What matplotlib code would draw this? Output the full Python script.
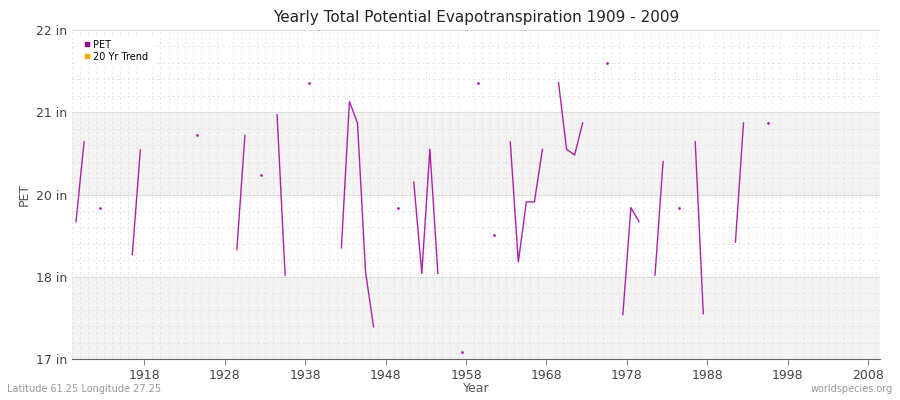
import numpy as np
import matplotlib.pyplot as plt

years = list(range(1909, 2010))
# PET values in axis units (tick 17..21 labelled 17,18,20,21,22 in)
pet_known = {
    1909: 18.67, 1910: 19.64, 1912: 18.84, 1916: 18.27, 1917: 19.54,
    1924: 19.72, 1929: 18.33, 1930: 19.72, 1932: 19.24, 1934: 19.97,
    1935: 18.02, 1938: 20.36, 1942: 18.35, 1943: 20.13, 1944: 19.87,
    1945: 18.06, 1946: 17.39, 1949: 18.84, 1951: 19.15, 1952: 18.04,
    1953: 19.55, 1954: 18.04, 1957: 17.08, 1959: 20.36, 1961: 18.51,
    1963: 19.64, 1964: 18.18, 1965: 18.91, 1966: 18.91, 1967: 19.55,
    1969: 20.36, 1970: 19.55, 1971: 19.48, 1972: 19.87, 1975: 20.60,
    1977: 17.54, 1978: 18.84, 1979: 18.67, 1981: 18.02, 1982: 19.40,
    1984: 18.84, 1986: 19.64, 1987: 17.55, 1991: 18.42, 1992: 19.87,
    1995: 19.87,
}
pet = np.array([pet_known.get(y, np.nan) for y in years])
yticks = [17, 18, 19, 20, 21]
ytick_labels = ["17 in", "18 in", "20 in", "21 in", "22 in"]
xticks = [1918, 1928, 1938, 1948, 1958, 1968, 1978, 1988, 1998, 2008]

fig = plt.figure(figsize=(9, 4), dpi=100)
ax = fig.add_axes([0.08, 0.1025, 0.898, 0.8225])
ax.set_facecolor("white")
for lo in (17, 19):
    ax.axhspan(lo, lo + 1, color="#f3f3f3", zorder=0)

x = np.array(years) + 0.5
purple = "#aa22aa"
ax.plot(x, pet, color=purple, lw=1, zorder=3)
iso = [i for i in range(len(pet)) if not np.isnan(pet[i])
       and (i == 0 or np.isnan(pet[i - 1]))
       and (i == len(pet) - 1 or np.isnan(pet[i + 1]))]
ax.scatter(x[iso], pet[iso], s=4, color=purple, zorder=4, linewidths=0)

ax.set_xlim(1909, 2009.5)
ax.set_ylim(17, 21)
ax.set_xticks(xticks)
ax.set_yticks(yticks)
ax.set_yticklabels(ytick_labels)
ax.set_xticks(np.arange(1909, 2010), minor=True)
ax.set_yticks(np.arange(17, 21, 0.2), minor=True)
ax.grid(which="minor", color="#e2e2e2", lw=0.6, ls=(0, (3, 3)))
ax.grid(which="major", axis="y", color="#dddddd", lw=0.8)
ax.tick_params(which="both", length=0, labelsize=9, colors="#444444")
ax.tick_params(axis="x", which="major", length=4, color="#888888")
for s in ("top", "right", "left"):
    ax.spines[s].set_visible(False)
ax.spines["bottom"].set_color("#666666")

ax.set_title("Yearly Total Potential Evapotranspiration 1909 - 2009", fontsize=11, color="#222222")
ax.set_xlabel("Year", fontsize=9, color="#555555", labelpad=0)
ax.set_ylabel("PET", fontsize=9, color="#555555")

h1 = plt.Line2D([], [], marker="s", ls="", color="#990099", markersize=3.5)
h2 = plt.Line2D([], [], marker="s", ls="", color="#ffaa00", markersize=3.5)
ax.legend([h1, h2], ["PET", "20 Yr Trend"], loc="upper left", fontsize=7,
          frameon=True, framealpha=1, edgecolor="white", handletextpad=0.2,
          borderpad=0.5, labelspacing=0.2, handlelength=1)

fig.text(0.008, 0.02, "Latitude 61.25 Longitude 27.25", fontsize=7, color="#999999")
fig.text(0.992, 0.02, "worldspecies.org", fontsize=7, color="#999999", ha="right")

fig.savefig("out.png")
